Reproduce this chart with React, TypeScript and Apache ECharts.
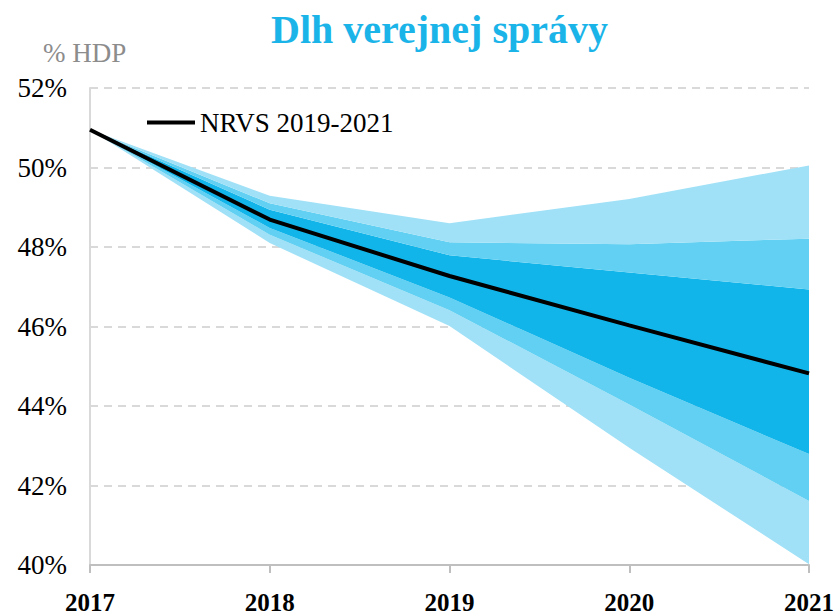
import React, { useEffect, useRef } from "react";
import * as echarts from "echarts";

const years = ["2017", "2018", "2019", "2020", "2021"];
const yTicks = [40, 42, 44, 46, 48, 50, 52];

// band bounds (% HDP)
const lower95 = [50.95, 48.1, 46.01, 42.95, 40.02];
const lower80 = [50.95, 48.31, 46.41, 44.04, 41.61];
const lower50 = [50.95, 48.48, 46.73, 44.71, 42.79];
const nrvs = [50.95, 48.69, 47.27, 46.03, 44.82];
const upper50 = [50.95, 48.94, 47.79, 47.36, 46.93];
const upper80 = [50.95, 49.1, 48.12, 48.07, 48.21];
const upper95 = [50.95, 49.29, 48.6, 49.21, 50.05];

const LIGHT = "#A0E1F7";
const MEDIUM = "#62D0F2";
const DARK = "#12B5EA";
const FONT = "Liberation Serif";

const diff = (a: number[], b: number[]) => a.map((v, i) => +(v - b[i]).toFixed(3));

export default function App() {
  const ref = useRef<HTMLDivElement>(null);
  useEffect(() => {
    if (!ref.current) return;
    const chart = echarts.init(ref.current, undefined, { renderer: "svg" });
    const band = (name: string, data: number[], color: string) => ({
      name,
      type: "line",
      stack: "fan",
      data,
      symbol: "none",
      lineStyle: { width: 0, opacity: 0 },
      areaStyle: { color, opacity: 1 },
      silent: true,
    });
    chart.setOption({
      animation: false,
      textStyle: { fontFamily: FONT },
      title: {
        text: "Dlh verejnej správy",
        left: 266,
        top: 4,
        textStyle: { fontFamily: FONT, fontSize: 40, fontWeight: "bold", color: "#1BB4E9" },
      },
      graphic: [
        {
          type: "text",
          left: 43,
          top: 39,
          style: { text: "% HDP", fontFamily: FONT, fontSize: 27, fill: "#8C8C8C" },
        },
      ],
      legend: {
        data: ["NRVS 2019-2021"],
        left: 142,
        top: 104,
        icon: "rect",
        itemWidth: 48,
        itemHeight: 4,
        itemGap: 6,
        textStyle: { fontFamily: FONT, fontSize: 27, color: "#000" },
      },
      grid: { left: 90, right: 27, top: 88, bottom: 49, containLabel: false },
      xAxis: {
        type: "category",
        data: years,
        boundaryGap: false,
        axisLine: { lineStyle: { color: "#BFBFBF", width: 2 } },
        axisTick: { show: true, length: 8, lineStyle: { color: "#BFBFBF", width: 2 } },
        axisLabel: { fontFamily: FONT, fontSize: 25, fontWeight: "bold", color: "#000", margin: 25 },
        splitLine: { show: false },
      },
      yAxis: {
        type: "value",
        min: 40,
        max: 52,
        interval: 2,
        axisLine: { show: true, lineStyle: { color: "#D9D9D9", width: 2 } },
        axisTick: { show: false },
        axisLabel: {
          fontFamily: FONT,
          fontSize: 27,
          color: "#000",
          margin: 23,
          formatter: (v: number) => (yTicks.includes(v) ? `${v}%` : ""),
        },
        splitLine: { show: true, lineStyle: { color: "#D9D9D9", type: [8, 6], width: 2 } },
      },
      series: [
        {
          name: "base",
          type: "line",
          stack: "fan",
          data: lower95,
          symbol: "none",
          lineStyle: { width: 0, opacity: 0 },
          silent: true,
        },
        band("l95", diff(lower80, lower95), LIGHT),
        band("l80", diff(lower50, lower80), MEDIUM),
        band("c50", diff(upper50, lower50), DARK),
        band("u80", diff(upper80, upper50), MEDIUM),
        band("u95", diff(upper95, upper80), LIGHT),
        {
          name: "NRVS 2019-2021",
          type: "line",
          data: nrvs,
          symbol: "none",
          color: "#000",
          lineStyle: { color: "#000", width: 4 },
          z: 10,
        },
      ],
    });
    return () => chart.dispose();
  }, []);
  return <div ref={ref} style={{ width: 837, height: 615, position: "absolute", left: 0, top: 0 }} />;
}
